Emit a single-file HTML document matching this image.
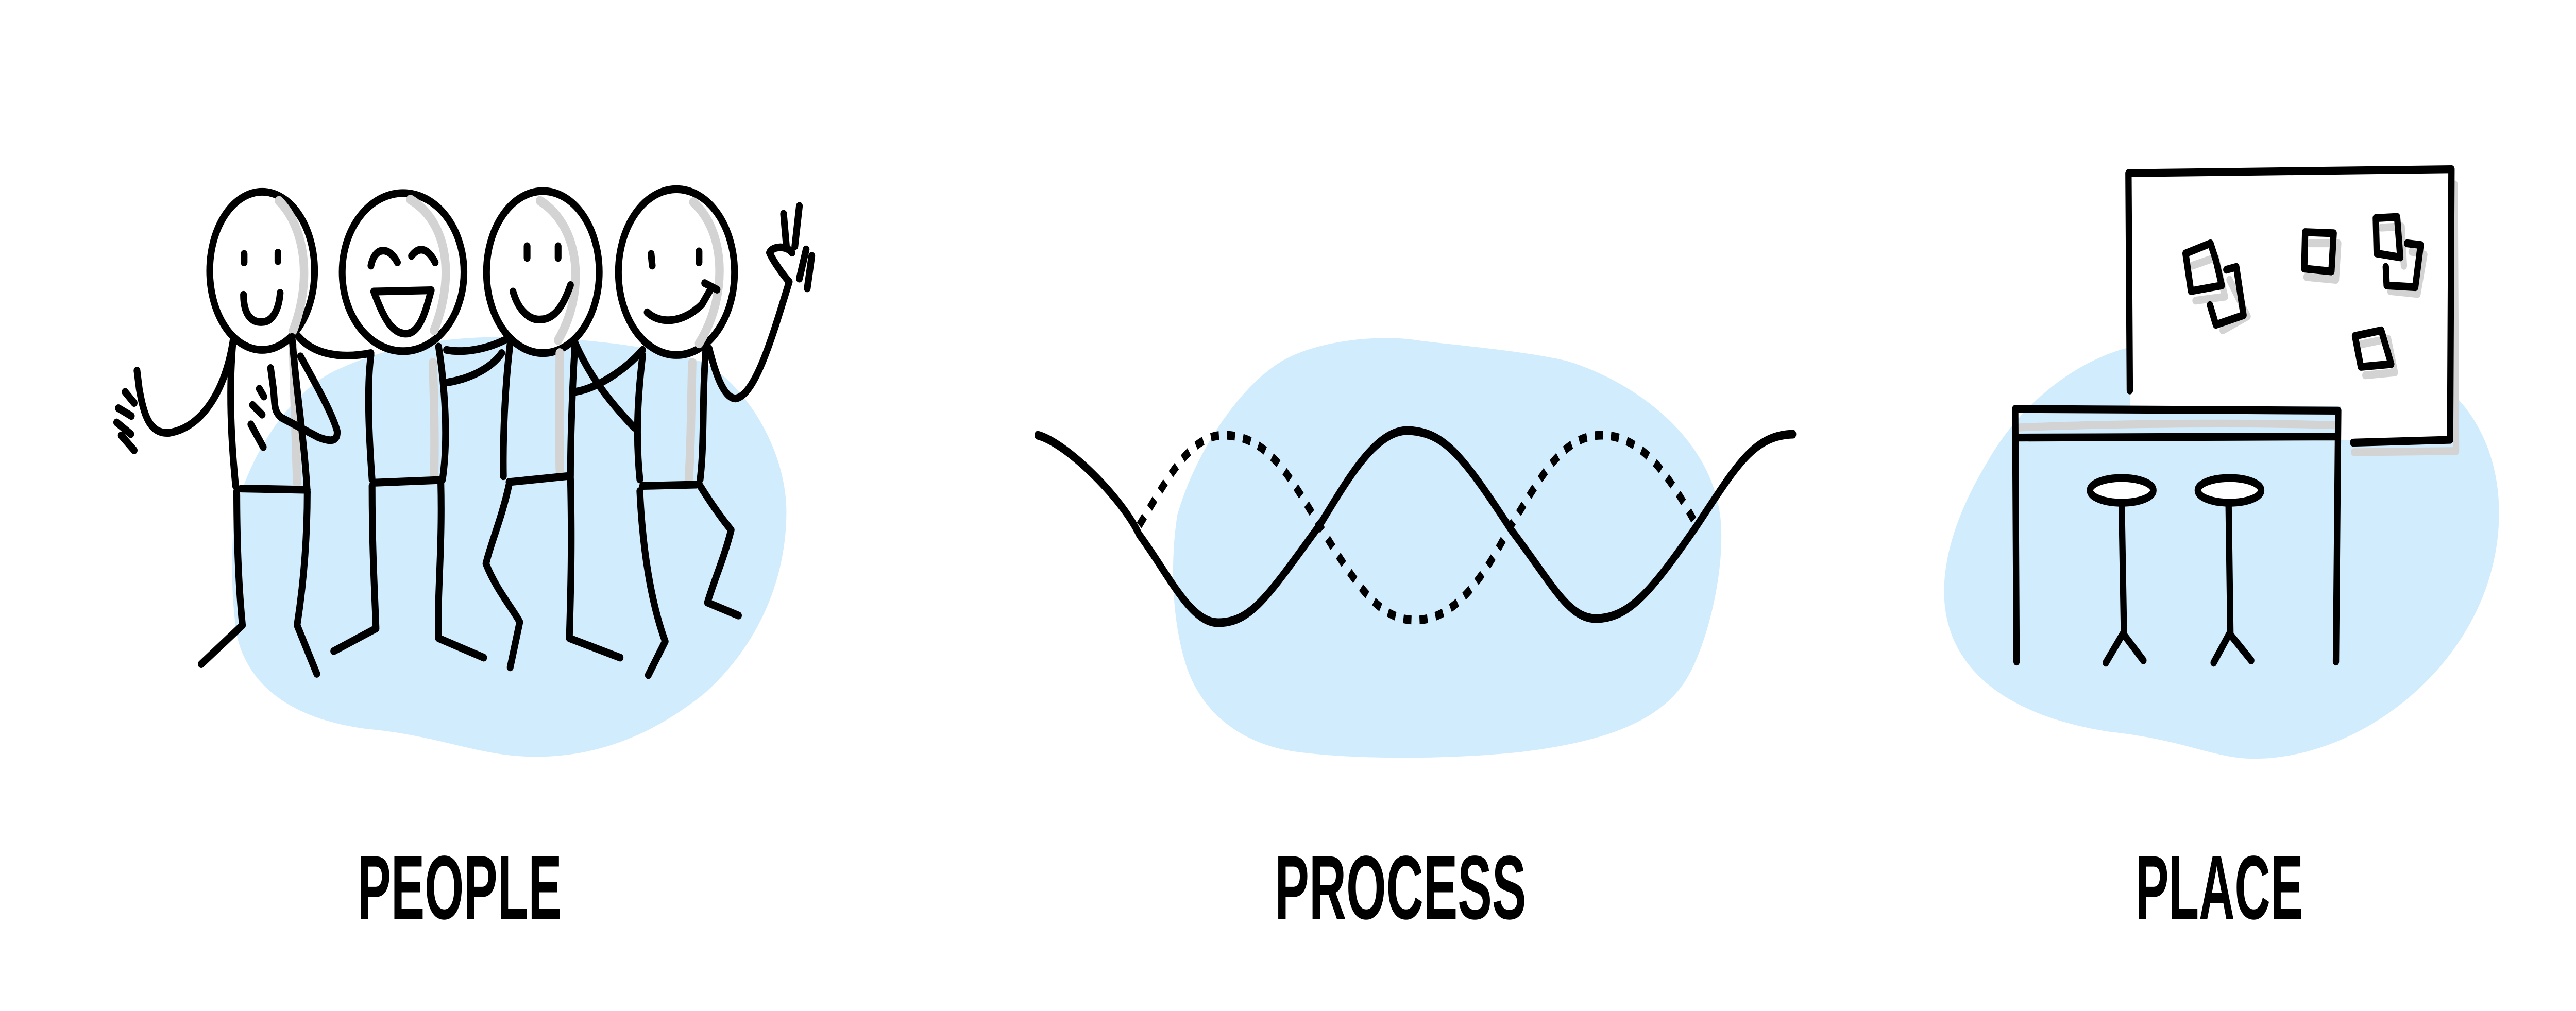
<!DOCTYPE html>
<html><head><meta charset="utf-8"><style>
html,body{margin:0;padding:0;background:#fff;width:100%;height:100%;overflow:hidden;}
svg{display:block;width:100vw;height:100vh;}
</style></head><body>
<svg viewBox="0 0 7028 1963" preserveAspectRatio="none" xmlns="http://www.w3.org/2000/svg">
<rect width="7028" height="1963" fill="#fff"/>

<!-- PEOPLE -->
<g transform="scale(1.538,1.258)" fill="none" stroke="#000" stroke-linecap="round" stroke-linejoin="round" stroke-width="12">
  <path d="M415,800 C440,700 520,600 600,570 C700,530 800,520 900,520 C1000,520 1150,530 1250,560 C1330,600 1395,700 1395,790 C1395,900 1340,1000 1250,1070 C1150,1140 1050,1168 950,1168 C850,1168 780,1135 650,1125 C520,1110 440,1060 420,980 C410,920 410,860 415,800 Z" fill="#d1ecfd" stroke="none"/>
  <ellipse cx="465" cy="418" rx="93" ry="122" fill="#fff"/>
  <ellipse cx="715" cy="420" rx="108" ry="122" fill="#fff"/>
  <ellipse cx="963" cy="420" rx="100" ry="125" fill="#fff"/>
  <ellipse cx="1200" cy="420" rx="103" ry="128" fill="#fff"/>
  <g stroke="#d3d3d3" stroke-width="15">
    <path d="M495,310 C540,350 555,430 520,510"/>
    <path d="M520,535 C522,620 525,680 527,745"/>
    <path d="M728,308 C790,340 810,420 770,510"/>
    <path d="M768,560 C770,620 772,680 770,735"/>
    <path d="M958,310 C1030,350 1040,450 990,525"/>
    <path d="M993,545 C992,620 992,680 993,725"/>
    <path d="M1230,312 C1290,360 1290,460 1240,530"/>
    <path d="M1228,560 C1226,620 1226,680 1222,738"/>
  </g>
  <path d="M433,392 L433,405 M493,390 L493,403 M432,455 C432,490 450,498 465,497 C485,497 495,475 497,452"/>
  <path d="M414,520 C405,600 410,680 418,750 M428,754 L545,756 M518,520 C525,600 540,680 545,760"/>
  <path d="M413,528 C400,600 360,660 300,668 C265,670 255,640 247,600 L243,572 M222,605 L238,622 M210,630 L233,642 M207,652 L232,670 M215,672 L238,695"/>
  <path d="M420,758 C420,850 425,920 430,965 L357,1025 M545,760 C545,850 535,920 527,965 L562,1040"/>
  <path d="M530,520 C555,545 600,555 658,545"/>
  <path d="M533,550 C565,600 590,640 598,665 C600,685 580,680 565,675 L500,645 C485,635 488,625 485,600 L480,568 M460,600 L468,612 M448,625 L465,640 M445,655 L467,690"/>
  <path d="M658,410 C665,380 690,380 705,405 M730,395 C745,378 760,385 772,405"/>
  <path fill="#fff" d="M663,450 L765,448 C755,480 745,515 720,515 C695,515 680,490 663,450 Z"/>
  <path d="M658,548 C650,600 655,680 660,740 M778,535 C790,600 795,680 785,740 M665,745 L778,741"/>
  <path d="M660,750 C660,850 665,920 667,970 L592,1005 M782,745 C785,850 775,920 778,985 L858,1015"/>
  <path d="M792,540 C820,545 860,540 895,525 M795,590 C830,585 870,570 890,545"/>
  <path d="M935,380 L935,398 M990,380 L990,398 M910,450 C920,480 940,495 960,493 C985,492 1000,470 1012,440"/>
  <path d="M905,530 C895,600 892,680 893,735 M1020,530 C1015,600 1012,680 1012,735 M903,744 L1005,735"/>
  <path d="M903,748 C890,800 870,840 862,870 C880,910 910,940 922,960 L905,1030 M1012,738 C1015,850 1012,920 1010,985 L1100,1015"/>
  <path d="M1018,525 C1040,570 1070,610 1125,660 M1018,605 C1060,600 1110,570 1140,540"/>
  <path d="M1155,392 L1157,410 M1240,388 L1240,405 M1148,482 C1170,500 1210,500 1245,470 C1255,455 1258,450 1262,445 M1250,437 L1272,447"/>
  <path d="M1140,548 C1130,620 1128,680 1135,740 M1252,540 C1245,620 1250,680 1242,740 M1140,750 L1235,748"/>
  <path d="M1135,758 C1140,850 1155,930 1180,990 L1150,1042 M1242,750 C1260,775 1280,800 1297,818 C1285,860 1265,900 1255,930 L1310,950"/>
  <path d="M1258,538 C1270,580 1285,615 1305,615 C1340,610 1370,520 1400,435 C1385,420 1370,400 1365,390 C1370,380 1395,378 1405,390 M1395,380 L1390,330 M1410,380 L1418,318 M1430,385 L1418,430 M1440,395 L1432,445"/>
</g>

<!-- PROCESS -->
<path d="M3212,1000 C3260,880 3380,750 3500,700 C3600,660 3760,650 3860,660 C3960,670 4150,680 4270,700 C4420,730 4660,830 4693,1000 C4710,1100 4660,1250 4600,1320 C4530,1400 4380,1440 4150,1460 C3950,1475 3700,1475 3540,1460 C3380,1445 3280,1380 3240,1300 C3200,1220 3190,1100 3212,1000 Z" fill="#d1ecfd"/>
<path d="M2831,845 C2908,859 3061,966 3108,1038 C3184,1110 3246,1209 3323,1209 C3415,1209 3461,1155 3600,1020 C3677,931 3754,832 3846,836 C3938,841 3984,877 4123,1029 C4230,1128 4276,1200 4353,1201 C4446,1201 4507,1146 4630,1020 C4738,904 4784,845 4892,843" fill="none" stroke="#000" stroke-width="17" stroke-linecap="round"/>
<path d="M3108,1020 C3184,931 3246,845 3338,845 C3461,845 3523,931 3600,1020 C3707,1146 3769,1204 3861,1204 C3953,1204 4030,1146 4115,1029 C4200,931 4261,845 4369,845 C4476,845 4553,922 4622,1011" fill="none" stroke="#000" stroke-width="17" stroke-dasharray="22 22"/>

<!-- PLACE -->
<g transform="translate(5100,200) scale(1.236,1.09)" fill="none" stroke="#000" stroke-linecap="round" stroke-linejoin="round" stroke-width="14">
  <path d="M575,435 C450,460 330,540 260,640 C200,720 165,800 165,870 C165,1000 290,1090 530,1120 C700,1135 760,1168 850,1168 C1100,1168 1390,980 1390,730 C1390,620 1330,550 1290,520 L1290,430 L575,430 Z" fill="#d1ecfd" stroke="none"/>
  <path d="M1292,145 L1295,620 L1070,622" stroke="#d3d3d3"/>
  <polygon points="575,125 1282,120 1282,600 1040,600 1040,540 575,540" fill="#fff" stroke="none"/>
  <g stroke="#d3d3d3">
    <path d="M712,290 L765,275 L785,345 L720,352 M795,315 L835,380 L780,405 M972,250 L1035,250 L1030,315 L965,310 M1130,222 L1175,220 L1180,290 M1197,265 L1225,270 L1210,340 L1150,335 M1085,430 L1145,420 L1160,480 L1095,485"/>
    <path d="M330,578 C500,572 800,568 1028,574"/>
  </g>
  <path d="M572,125 L1285,118 L1282,600 L1068,605 M572,125 L575,512"/>
  <path d="M698,268 L753,250 L765,280 L778,325 L710,335 Z M788,297 L810,292 L826,378 L765,395 L752,360 M962,230 L1025,232 L1020,300 L960,295 Z M1118,205 L1165,203 L1172,275 L1120,268 Z M1187,250 L1217,253 L1205,328 L1142,325 L1140,292 M1072,415 L1130,405 L1152,465 L1085,470 Z"/>
  <path d="M322,545 L1035,548 M325,596 L1032,594 M322,545 L325,995 M1035,548 L1030,995"/>
  <ellipse cx="557" cy="690" rx="70" ry="22" fill="#fff"/>
  <ellipse cx="795" cy="690" rx="70" ry="22" fill="#fff"/>
  <path d="M557,715 L562,945 M560,945 L522,997 M560,945 L605,993 M793,715 L797,945 M795,945 L760,997 M795,945 L843,993"/>
</g>

<g font-family="Liberation Sans, sans-serif" font-weight="bold" font-size="176" fill="#000">
  <text x="975" y="1784" textLength="558" lengthAdjust="spacingAndGlyphs">PEOPLE</text>
  <text x="3478" y="1784" textLength="686" lengthAdjust="spacingAndGlyphs">PROCESS</text>
  <text x="5827" y="1784" textLength="457" lengthAdjust="spacingAndGlyphs">PLACE</text>
</g>
</svg>
</body></html>
